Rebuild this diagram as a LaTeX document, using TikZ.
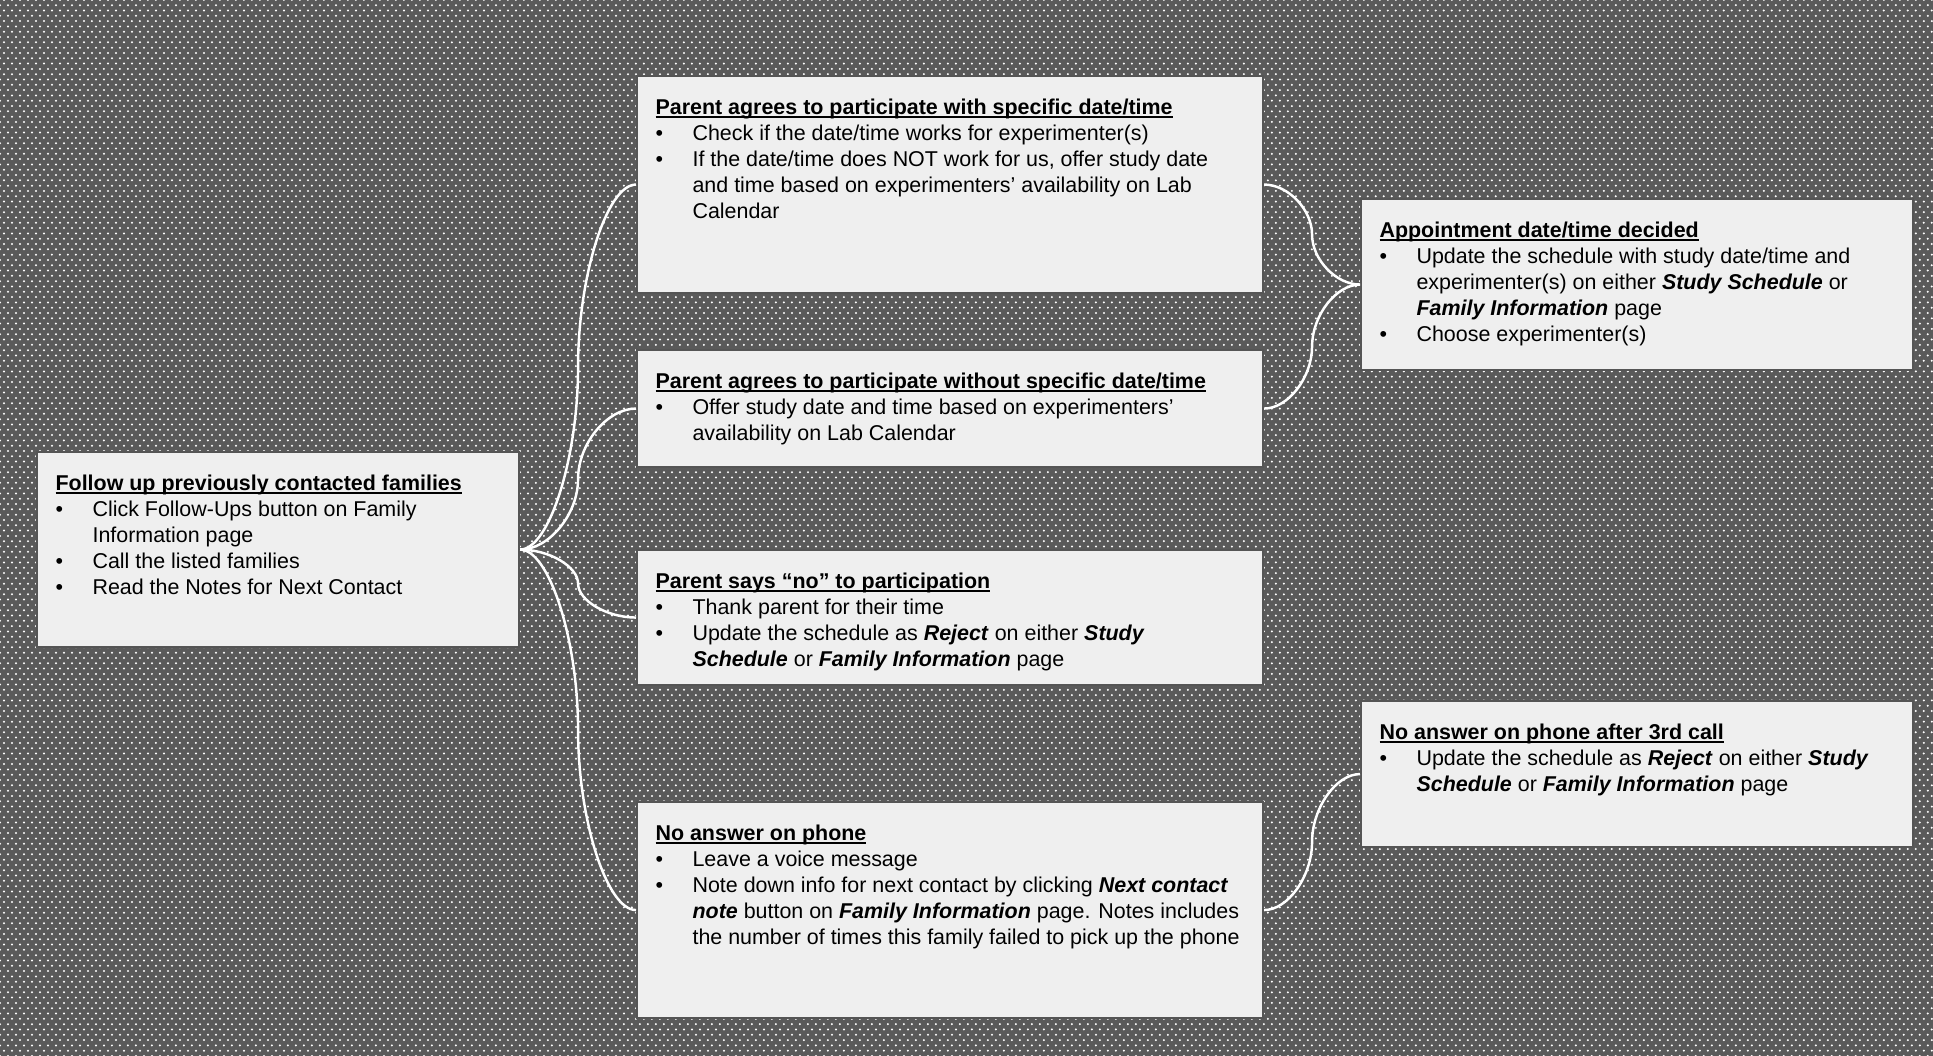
\documentclass[tikz,border=0pt]{standalone}
\usepackage{fontspec}
\setmainfont{Liberation Sans}
\usetikzlibrary{patterns,calc}

\definecolor{backdrop}{HTML}{5A5A5A}
\definecolor{cardfill}{HTML}{EFEFEF}
\definecolor{cardline}{HTML}{555555}

\pgfdeclarepatternformonly{staggerdots}{\pgfqpoint{-0.5pt}{-0.5pt}}{\pgfqpoint{1.7pt}{2.1pt}}{\pgfqpoint{2.276pt}{3.02pt}}{%
  \pgfpathcircle{\pgfqpoint{0pt}{0pt}}{0.32pt}
  \pgfpathcircle{\pgfqpoint{1.138pt}{1.51pt}}{0.32pt}
  \pgfusepath{fill}}

\newcommand\cardtitle[1]{\setbox0\hbox{\textbf{#1}}\noindent\rlap{\rule[-0.85pt]{\wd0}{0.45pt}}\box0\par}
\newcommand\carditem[1]{\par\hangindent=0.37cm\hangafter=1\noindent\makebox[0.37cm][l]{•}#1\par}
\newcommand\bfit[1]{\textbf{\textit{#1}}}
\newcommand\cardbody[3]{\parbox[c][#2][t]{#1}{\fontsize{6.1pt}{7.37pt}\selectfont
  \lineskiplimit=-10pt\leftskip=0.185cm\rightskip=0pt plus 1fil #3}}

\tikzset{
  card/.style={draw=cardline, line width=0.6pt, fill=cardfill, inner xsep=0pt,
    inner ysep=0.23cm, anchor=north west},
  link/.style={draw=white, line width=0.7pt},
  elbowcurve/.style={to path={let \p1=(\tikztostart), \p2=(\tikztotarget),
    \p3=($(\p1)!0.5!(\p2)$) in
    .. controls ($(\p1)!0.5!(\x3,\y1)$) and (\x3,{\y1+(\y2-\y1)/4}) .. (\p3)
    .. controls (\x3,{\y1+3*(\y2-\y1)/4}) and ($(\p2)!0.5!(\x3,\y2)$) .. (\p2)}}
}

\begin{document}
\begin{tikzpicture}

\useasboundingbox (0,0) rectangle (19.33,-10.56);
\fill [backdrop] (0,0) rectangle (19.33,-10.56);
\fill [pattern=staggerdots, pattern color=white] (0,0) rectangle (19.33,-10.56);

\node [card] (follow) at (0.36,-4.51) {\cardbody{4.82cm}{1.49cm}{%
  \cardtitle{Follow up previously contacted families}
  \carditem{Click Follow-Ups button on Family\newline Information page}
  \carditem{Call the listed families}
  \carditem{Read the Notes for Next Contact}}};

\node [card] (withdate) at (6.36,-0.75) {\cardbody{6.26cm}{1.71cm}{%
  \cardtitle{Parent agrees to participate with specific date/time}
  \carditem{Check if the date/time works for experimenter(s)}
  \carditem{If the date/time does NOT work for us, offer study date\newline and time based on experimenters’ availability on Lab\newline Calendar}}};

\node [card] (nodate) at (6.36,-3.49) {\cardbody{6.26cm}{0.71cm}{%
  \cardtitle{Parent agrees to participate without specific date/time}
  \carditem{Offer study date and time based on experimenters’\newline availability on Lab Calendar}}};

\node [card] (declines) at (6.36,-5.49) {\cardbody{6.26cm}{0.89cm}{%
  \cardtitle{Parent says “no” to participation}
  \carditem{Thank parent for their time}
  \carditem{Update the schedule as \bfit{Reject} on either \bfit{Study}\newline \bfit{Schedule} or \bfit{Family Information} page}}};

\node [card] (noanswer) at (6.36,-8.01) {\cardbody{6.26cm}{1.70cm}{%
  \cardtitle{No answer on phone}
  \carditem{Leave a voice message}
  \carditem{Note down info for next contact by clicking \bfit{Next contact}\newline \bfit{note} button on \bfit{Family Information} page. Notes includes\newline the number of times this family failed to pick up the phone}}};

\node [card] (decided) at (13.60,-1.98) {\cardbody{5.52cm}{1.25cm}{%
  \cardtitle{Appointment date/time decided}
  \carditem{Update the schedule with study date/time and\newline experimenter(s) on either \bfit{Study Schedule} or\newline \bfit{Family Information} page}
  \carditem{Choose experimenter(s)}}};

\node [card] (thirdcall) at (13.60,-7.00) {\cardbody{5.52cm}{1.00cm}{%
  \cardtitle{No answer on phone after 3rd call}
  \carditem{Update the schedule as \bfit{Reject} on either \bfit{Study}\newline \bfit{Schedule} or \bfit{Family Information} page}}};

\draw [link] (follow.east) to[elbowcurve] (withdate.west);
\draw [link] (follow.east) to[elbowcurve] (nodate.west);
\draw [link] (follow.east) to[elbowcurve] (declines.west);
\draw [link] (follow.east) to[elbowcurve] (noanswer.west);

\draw [link] (withdate.east) to[elbowcurve] (decided.west);
\draw [link] (nodate.east) to[elbowcurve] (decided.west);
\draw [link] (noanswer.east) to[elbowcurve] (thirdcall.west);

\end{tikzpicture}
\end{document}
